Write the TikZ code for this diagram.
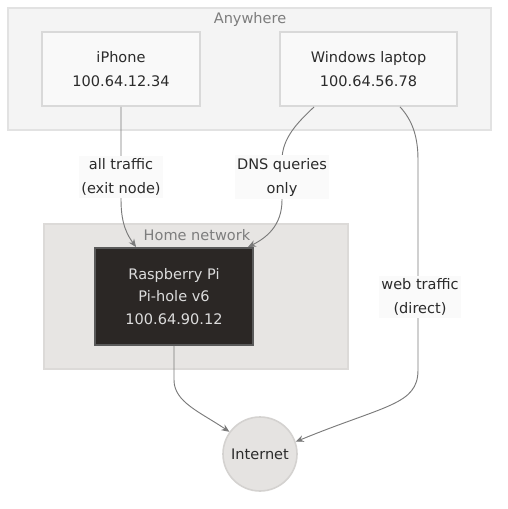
\documentclass[tikz,border=0pt]{standalone}
\usepackage{fontspec}
\setmainfont{DejaVu Sans}
\usetikzlibrary{arrows.meta,calc}
\definecolor{clA}{HTML}{F4F4F4}
\definecolor{clAb}{HTML}{E2E2E2}
\definecolor{boxf}{HTML}{F9F9F9}
\definecolor{boxb}{HTML}{D9D9D9}
\definecolor{homef}{HTML}{E7E5E3}
\definecolor{homeb}{HTML}{DCDAD8}
\definecolor{pif}{HTML}{2B2725}
\definecolor{pib}{HTML}{5A5A5A}
\definecolor{pit}{HTML}{DCDCDC}
\definecolor{netf}{HTML}{E5E3E1}
\definecolor{netb}{HTML}{D4D2D0}
\definecolor{edgec}{HTML}{7A7A7A}
\definecolor{lblbg}{HTML}{FAFAFA}
\definecolor{txt}{HTML}{2B2B2B}
\definecolor{cltxt}{HTML}{7D7D7D}
\tikzset{
  x=0.75pt, y=-0.75pt,
  every node/.style={font=\fontsize{10.9}{18}\selectfont, text=txt, inner sep=0pt},
  cluster/.style={draw=clAb, fill=clA, line width=1pt},
  homecl/.style={draw=homeb, fill=homef, line width=1pt},
  clabel/.style={text=cltxt},
  devbox/.style={draw=boxb, fill=boxf, line width=1.4pt, align=center},
  pibox/.style={draw=pib, fill=pif, line width=1.4pt, align=center, text=pit},
  netnode/.style={circle, draw=netb, fill=netf, line width=1.2pt, minimum size=55.5pt},
  edge/.style={draw=edgec, line width=0.7pt, -{Stealth[length=6pt,width=5pt]}},
  elabel/.style={fill=lblbg, align=center, inner xsep=1.5pt, inner ysep=2pt},
}
\begin{document}
\begin{tikzpicture}
\useasboundingbox (0,0) rectangle (507,509);
% clusters
\path[cluster] (8,8) rectangle (491,130);
\node[clabel] (anyl) at (250,19.5) {Anywhere};
\path[homecl] (44,224) rectangle (348,369);
\node[clabel] (homel) at (197,235.5) {Home network};
% device nodes
\node[devbox, minimum width=118.5pt, minimum height=55.5pt] (iphone) at (121,69) {iPhone\\100.64.12.34};
\node[devbox, minimum width=132.75pt, minimum height=55.5pt] (laptop) at (368.5,69) {Windows laptop\\100.64.56.78};
\node[pibox, minimum width=118.5pt, minimum height=72.75pt, font=\fontsize{10.9}{17}\selectfont] (pi) at (174,296.5) {Raspberry Pi\\Pi-hole v6\\100.64.90.12};
\node[netnode] (net) at (260,454) {Internet};
% edges
\draw[edge] (iphone.south) -- (121,200) .. controls (121,225) and (128,236) .. ($(pi.north west)+(42,0)$);
\draw[edge] ($(laptop.south west)+(35,0)$) .. controls (298,122) and (282,138) .. (282,160) -- (282,200) .. controls (282,226) and (266,238) .. ($(pi.north east)+(-6,0)$);
\draw[edge] ($(laptop.south west)+(121,0)$) .. controls (412,120) and (418,136) .. (418,160) -- (418,370) .. controls (418,405) and (385,405) .. (net.19);
\draw[edge] (pi.south) -- (174,380) .. controls (174,402) and (200,412) .. (net.144);
% edge labels
\node[elabel] (l1) at (121,177) {all traffic\\(exit node)};
\node[elabel] (l2) at (282,177) {DNS queries\\only};
\node[elabel] (l3) at (420,297) {web traffic\\(direct)};
\end{tikzpicture}
\end{document}
